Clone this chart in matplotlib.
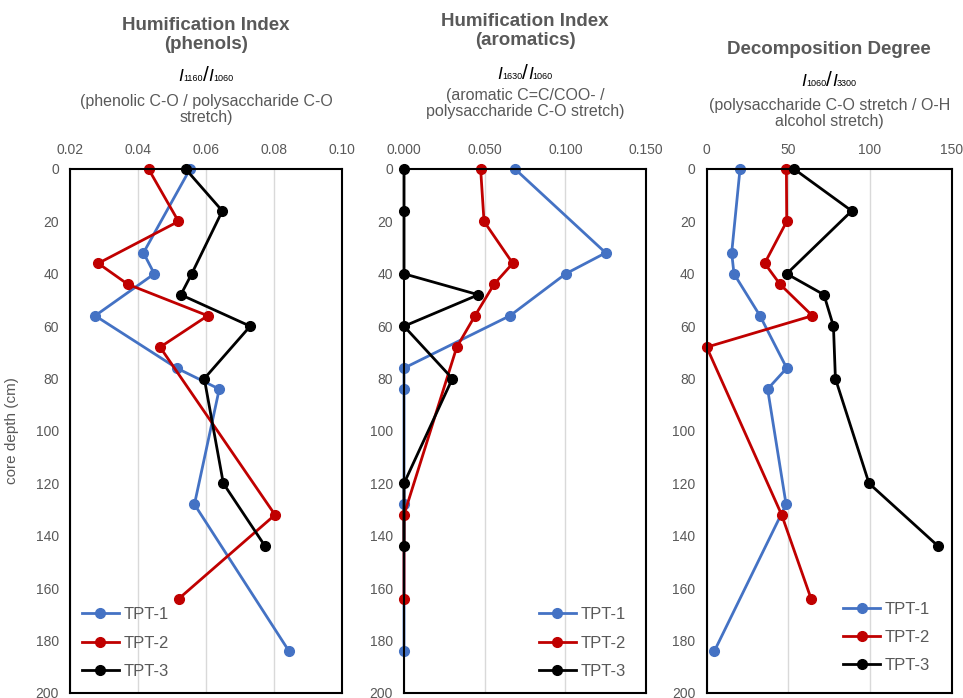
import matplotlib
matplotlib.use("Agg")
import matplotlib.pyplot as plt

plt.rcParams['font.family'] = ['Liberation Sans', 'DejaVu Sans']

series_names = ["TPT-1", "TPT-2", "TPT-3"]
colors = ["#4472C4", "#C00000", "#000000"]

depth_tpt1 = [0, 32, 40, 56, 76, 84, 128, 184]
depth_tpt2 = [0, 20, 36, 44, 56, 68, 132, 164]
depth_tpt3 = [0, 16, 40, 48, 60, 80, 120, 144]

phenols_tpt1 = [0.0553, 0.0416, 0.0448, 0.0274, 0.0514, 0.0639, 0.0566, 0.0844]
phenols_tpt2 = [0.0431, 0.0519, 0.0283, 0.0370, 0.0605, 0.0465, 0.0803, 0.0520]
phenols_tpt3 = [0.0540, 0.0648, 0.0558, 0.0526, 0.0730, 0.0595, 0.0651, 0.0774]

aromatics_tpt1 = [0.0688, 0.125, 0.1002, 0.0657, 0.0, 0.0, 0.0, 0.0]
aromatics_tpt2 = [0.0475, 0.0496, 0.0674, 0.0558, 0.0440, 0.0327, 0.0, 0.0]
aromatics_tpt3 = [0.0, 0.0, 0.0, 0.0461, 0.0, 0.0300, 0.0, 0.0]

decomp_tpt1 = [20.4, 15.3, 16.7, 32.6, 49.0, 37.3, 48.6, 4.7]
decomp_tpt2 = [48.8, 49.0, 35.5, 44.9, 64.7, 0.0, 45.9, 63.9]
decomp_tpt3 = [53.5, 88.8, 49.0, 71.8, 77.6, 78.8, 99.4, 141.8]

depths = [depth_tpt1, depth_tpt2, depth_tpt3]

panels = [
    dict(title="Humification Index\n(phenols)", ratio=("1160", "1060"),
         desc="(phenolic C-O / polysaccharide C-O\nstretch)",
         data=[phenols_tpt1, phenols_tpt2, phenols_tpt3],
         xlim=(0.02, 0.10), xticks=[0.02, 0.04, 0.06, 0.08, 0.10], fmt="{:.2f}",
         legend=dict(loc="lower left", bbox_to_anchor=(0.02, 0.014)),
         rect=[70, 342], ty=(35, 75, 109.5)),
    dict(title="Humification Index\n(aromatics)", ratio=("1630", "1060"),
         desc="(aromatic C=C/COO- /\npolysaccharide C-O stretch)",
         data=[aromatics_tpt1, aromatics_tpt2, aromatics_tpt3],
         xlim=(0.0, 0.15), xticks=[0.0, 0.05, 0.10, 0.15], fmt="{:.3f}",
         legend=dict(loc="lower right", bbox_to_anchor=(0.945, 0.014)),
         rect=[404, 646], ty=(31, 73, 103.5)),
    dict(title="Decomposition Degree", ratio=("1060", "3300"),
         desc="(polysaccharide C-O stretch / O-H\nalcohol stretch)",
         data=[decomp_tpt1, decomp_tpt2, decomp_tpt3],
         xlim=(0, 150), xticks=[0, 50, 100, 150], fmt="{:.0f}",
         legend=dict(loc="lower right", bbox_to_anchor=(0.94, 0.025)),
         rect=[706.7, 951.7], ty=(50, 80, 113.5)),
]

W, H = 963, 698
fig = plt.figure(figsize=(W / 100, H / 100), dpi=100)
renderer = fig.canvas.get_renderer()
gray = "#595959"
top_px, bot_px = 169, 693


def draw_ratio(cx_px, cy_px, a, b):
    """Italic I with small subscripts, slash between."""
    base_y = cy_px + 6  # baseline in px from top
    parts = [("I", 12.5, "italic"), (a, 6.5, "normal"), ("/", 15, "normal"),
             ("I", 12.5, "italic"), (b, 6.5, "normal")]
    texts = []
    widths = []
    for s, fs, st in parts:
        t = fig.text(0, 1 - base_y / H, s, fontsize=fs, style=st, color="#000000",
                     ha="left", va="baseline")
        w = t.get_window_extent(renderer).width
        texts.append(t)
        widths.append(w)
    total = sum(widths)
    x = cx_px - total / 2
    for t, w in zip(texts, widths):
        t.set_x(x / W)
        x += w


for i, p in enumerate(panels):
    l, r = p["rect"]
    ax = fig.add_axes([l / W, 1 - bot_px / H, (r - l) / W, (bot_px - top_px) / H])
    for name, c, d, v in zip(series_names, colors, depths, p["data"]):
        ax.plot(v, d, color=c, lw=2, marker="o", ms=7, label=name, clip_on=False)
    ax.set_xlim(*p["xlim"])
    ax.set_ylim(200, 0)
    ax.set_xticks(p["xticks"])
    ax.set_xticklabels([p["fmt"].format(t) for t in p["xticks"]])
    ax.set_yticks(range(0, 201, 20))
    ax.xaxis.tick_top()
    ax.tick_params(axis="both", length=0, labelsize=10, colors=gray, pad=8)
    ax.tick_params(axis="x", pad=9)
    ax.grid(axis="x", color="#D9D9D9", lw=1)
    ax.set_axisbelow(True)
    for s in ax.spines.values():
        s.set_color("#000000")
        s.set_linewidth(1.5)
    cx_px = (l + r) / 2
    cx = cx_px / W
    ty_title, ty_ratio, ty_desc = p["ty"]
    fig.text(cx, 1 - ty_title / H, p["title"], ha="center", va="center", fontsize=13.5,
             fontweight="bold", color=gray, linespacing=1.2)
    draw_ratio(cx_px, ty_ratio, *p["ratio"])
    fig.text(cx, 1 - ty_desc / H, p["desc"], ha="center", va="center", fontsize=11.5,
             color=gray, linespacing=1.1)
    leg = ax.legend(frameon=False, fontsize=12, handlelength=2.2,
                    labelspacing=0.8, handletextpad=0.3, borderaxespad=0.0, **p["legend"])
    for t in leg.get_texts():
        t.set_color(gray)
    if i == 0:
        ax.set_ylabel("core depth (cm)", fontsize=11, color=gray, labelpad=12)

fig.savefig("out.png", dpi=100)
